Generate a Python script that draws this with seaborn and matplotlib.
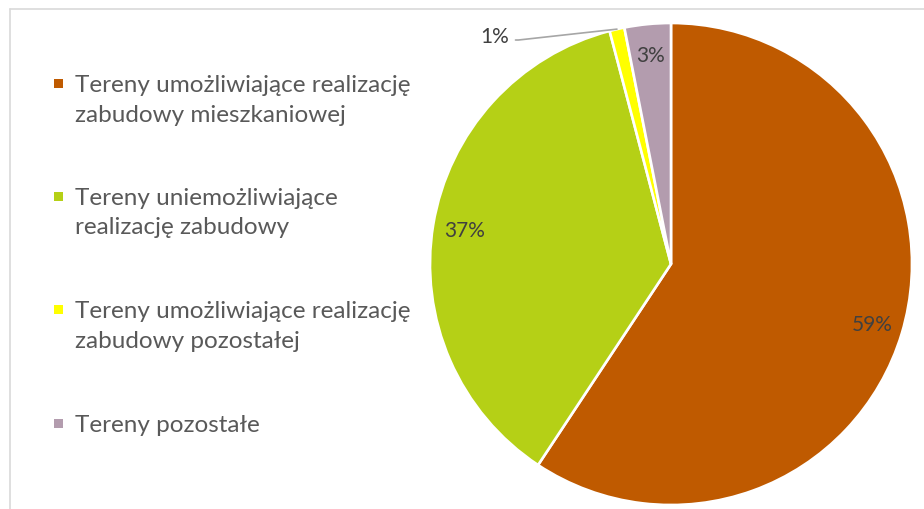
import matplotlib
matplotlib.use("Agg")
import matplotlib.pyplot as plt
from matplotlib.lines import Line2D
from matplotlib.patches import Rectangle
import seaborn as sns
import numpy as np

categories = [
    "Tereny umożliwiające realizację\nzabudowy mieszkaniowej",
    "Tereny uniemożliwiające\nrealizację zabudowy",
    "Tereny umożliwiające realizację\nzabudowy pozostałej",
    "Tereny pozostałe",
]
shares = [59.3, 36.6, 1.0, 3.1]
colors = ["#BF5A00", "#B5D016", "#FFFF00", "#B39CAE"]

sns.set_theme(style="white")
plt.rcParams["font.family"] = ["Lato", "DejaVu Sans"]

W, H = 924, 510
fig = plt.figure(figsize=(W / 100, H / 100), dpi=100)

# thin frame (top and left edge visible)
frame = "#D9D9D9"
fig.add_artist(Line2D([10 / W, 1], [1 - 10 / H, 1 - 10 / H], color=frame, lw=1.2,
                      transform=fig.transFigure))
fig.add_artist(Line2D([10 / W, 10 / W], [0, 1 - 10 / H], color=frame, lw=1.2,
                      transform=fig.transFigure))

# pie
cx, cy, r = 671, 245, 241
ax = fig.add_axes([(cx - r) / W, (cy - r) / H, 2 * r / W, 2 * r / H])
total = sum(shares)
pct_labels = [f"{round(v / total * 100):d}%" for v in shares]

wedges, _ = ax.pie(
    shares,
    colors=colors,
    startangle=90,
    counterclock=False,
    radius=1,
    wedgeprops=dict(edgecolor="white", linewidth=1.9),
)
ax.set_xlim(-1, 1)
ax.set_ylim(-1, 1)
ax.axis("off")

pct_color = "#404040"
for w, lab, v in zip(wedges, pct_labels, shares):
    ang = np.deg2rad((w.theta1 + w.theta2) / 2)
    if v / total < 0.02:
        x0, y0 = np.cos(ang), np.sin(ang)
        ax.annotate(
            lab, xy=(x0, y0), xytext=(-0.73, 0.946),
            ha="center", va="center", fontsize=15, color=pct_color,
            arrowprops=dict(arrowstyle="-", color="#A6A6A6", lw=1.2,
                            relpos=(1, 0.3), shrinkA=2, shrinkB=0,
                            connectionstyle="arc,angleA=0,angleB=0,armA=9,armB=0,rad=0"),
        )
    else:
        d = 0.87
        ax.text(d * np.cos(ang), d * np.sin(ang), lab, ha="center", va="center",
                fontsize=15, color=pct_color)

# legend
leg_y = [84, 197, 310, 424]
for lab, col, y in zip(categories, colors, leg_y):
    fig.add_artist(Rectangle(((54) / W, 1 - (y + 5) / H), 9 / W, 9 / H,
                             facecolor=col, edgecolor="none",
                             transform=fig.transFigure))
    fig.text(75 / W, 1 - (y - 9) / H, lab, ha="left", va="top", fontsize=17.5,
             color="#595959", linespacing=1.5)

fig.savefig("out.png", dpi=100)
